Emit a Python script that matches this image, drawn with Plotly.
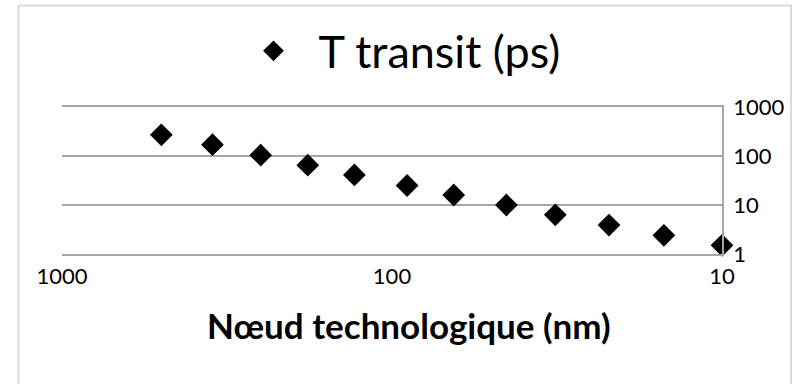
import plotly.graph_objects as go

# Technology node (nm) and transit time (ps)
noeud_nm = [500, 350, 250, 180, 130, 90, 65, 45, 32, 22, 15, 10]
t_transit_ps = [270, 170, 104, 65, 41, 25, 16, 10, 6.3, 3.9, 2.4, 1.5]

x_tick_vals = [1000, 100, 10]
x_tick_text = ["1000", "100", "10"]
y_tick_vals = [1, 10, 100, 1000]
y_tick_text = ["1", "10", "100", "1000"]

series_name = "T transit (ps)"
x_title = "Nœud technologique (nm)"

FONT = "Lato, 'Open Sans', sans-serif"
GRID = "#a6a6a6"

fig = go.Figure()
fig.add_trace(go.Scatter(
    x=noeud_nm,
    y=t_transit_ps,
    mode="markers",
    name=series_name,
    marker=dict(symbol="diamond", size=17.5, color="black", line=dict(width=0)),
    cliponaxis=False,
))

fig.update_layout(
    width=802,
    height=384,
    margin=dict(l=62, r=80, t=107, b=130, autoexpand=False),
    paper_bgcolor="white",
    plot_bgcolor="white",
    font=dict(family=FONT, color="black"),
    showlegend=True,
    legend=dict(
        orientation="h",
        xref="container", yref="container",
        x=0.495, xanchor="center",
        y=0.867, yanchor="middle",
        font=dict(size=45, family=FONT, color="black"),
        itemwidth=80,
        bgcolor="rgba(0,0,0,0)",
    ),
    xaxis=dict(
        type="log",
        range=[3, 1],
        tickmode="array",
        tickvals=x_tick_vals,
        ticktext=x_tick_text,
        tickfont=dict(size=22, family=FONT, color="black"),
        showgrid=False,
        showline=True,
        mirror=True,
        linecolor=GRID,
        linewidth=1.5,
        ticks="",
        ticklabelstandoff=2,
        zeroline=False,
    ),
    yaxis=dict(
        type="log",
        range=[0, 3],
        side="right",
        tickmode="array",
        tickvals=y_tick_vals,
        ticktext=y_tick_text,
        tickfont=dict(size=22, family=FONT, color="black"),
        showgrid=True,
        gridcolor=GRID,
        gridwidth=1.5,
        showline=True,
        linecolor=GRID,
        linewidth=1.5,
        ticks="",
        ticklabelstandoff=5,
        zeroline=False,
    ),
    # x-axis title, sitting slightly right of the plot centre
    annotations=[dict(
        text="<b>" + x_title + "</b>",
        xref="paper", yref="paper",
        x=0.526, y=-0.483,
        xanchor="center", yanchor="middle",
        showarrow=False,
        font=dict(size=35, family=FONT, color="black"),
    )],
    shapes=[dict(
        type="rect", xref="paper", yref="paper",
        x0=-0.0659, x1=1.1045, y0=-1.0, y1=1.690,
        line=dict(color="#d9d9d9", width=2),
        fillcolor="rgba(0,0,0,0)",
        layer="below",
    )],
)

fig.write_html("out.html")
